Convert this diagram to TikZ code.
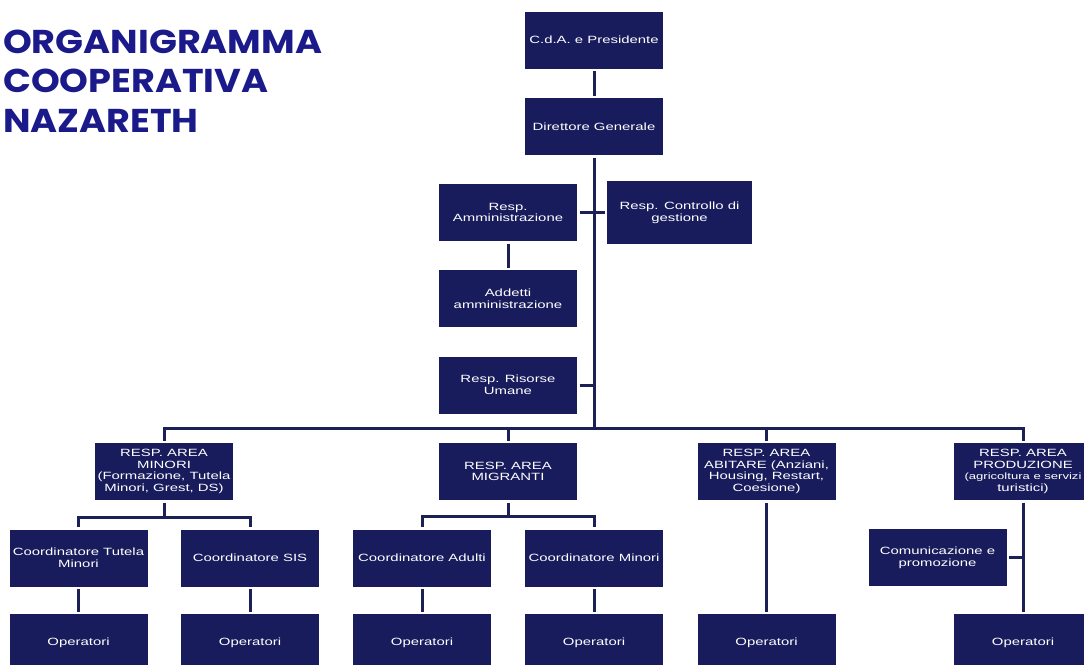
\documentclass[tikz,border=0pt]{standalone}
\usepackage{fontspec}
\usepackage{xcolor}
\usepackage{tikz}
\usetikzlibrary{positioning}
\newfontfamily\boxfont[FakeStretch=1.42]{Liberation Sans}
\newfontfamily\titlefont[FakeStretch=1.11]{Poppins}
\definecolor{boxfill}{HTML}{181C5C}
\definecolor{linkcol}{HTML}{1B2155}
\definecolor{titlecol}{HTML}{1A1A8A}
\tikzset{
  orgbox/.style={fill=boxfill, text=white, minimum width=138pt,
                 minimum height=57pt, inner sep=0pt, outer sep=2.5pt,
                 align=center, font=\boxfont\fontsize{10.5}{11.7}\selectfont},
  link/.style={draw=linkcol, line width=3pt, line join=miter},
  titletext/.style={text=titlecol, inner sep=0pt, anchor=base west,
                    font=\titlefont\bfseries\fontsize{33}{39}\selectfont}
}

\begin{document}
\begin{tikzpicture}[x=1pt, y=-1pt]

  % page frame, 1084 x 664
  \useasboundingbox (0,0) rectangle (1084,664);
  \clip (0,0) rectangle (1084,664);
  \fill[white] (0,0) rectangle (1084,664);

  % ===== Title =====
  \node[titletext] (tit1) at (3,53)  {ORGANIGRAMMA};
  \node[titletext] (tit2) at (3,92)  {COOPERATIVA};
  \node[titletext] (tit3) at (3,132) {NAZARETH};

  % ===== Top: board and direction =====
  \node[orgbox] (cda)  at (594,40)    {C.d.A. e Presidente};
  \node[orgbox] (dg)   at (594,126.5) {Direttore Generale};
  \node[orgbox] (ra)   at (508,212.5) {Resp.\\Amministrazione};
  \node[orgbox, minimum width=145pt, minimum height=63pt]
                (ctrl) at (679.5,212.5) {Resp. Controllo di\\gestione};
  \node[orgbox] (add)  at (508,298.5) {Addetti\\amministrazione};
  \node[orgbox] (rru)  at (508,385)   {Resp. Risorse\\Umane};

  % ===== Areas =====
  \node[orgbox] (minori)     at (164,471.5)
    {RESP. AREA\\MINORI\\(Formazione, Tutela\\Minori, Grest, DS)};
  \node[orgbox] (migranti)   at (508,471.5) {RESP. AREA\\MIGRANTI};
  \node[orgbox] (abitare)    at (766.5,471.5)
    {RESP. AREA\\ABITARE (Anziani,\\Housing, Restart,\\Coesione)};
  \node[orgbox] (produzione) at (1023,471.5)
    {RESP. AREA\\PRODUZIONE\\{\fontsize{9.2}{11.7}\selectfont(agricoltura e servizi}\\turistici)};

  % ===== Coordinators =====
  \node[orgbox] (ctm)    at (78.5,558)  {Coordinatore Tutela\\Minori};
  \node[orgbox] (sis)    at (250,558)   {Coordinatore SIS};
  \node[orgbox] (adulti) at (422,558)   {Coordinatore Adulti};
  \node[orgbox] (cmin)   at (594,558)   {Coordinatore Minori};
  \node[orgbox] (com)    at (937.5,557.5) {Comunicazione e\\promozione};

  % ===== Operators =====
  \foreach \n/\x in {op1/78.5, op2/250, op3/422, op4/594, op5/766.5, op6/1023}
    \node[orgbox] (\n) at (\x,642.5) {Operatori};

  % ===== Connectors =====
  \coordinate (mainbus) at (594,428);
  \coordinate (minbus)  at (164,517);
  \coordinate (migbus)  at (508,516);

  \draw[link] (cda) -- (dg);
  \draw[link] (dg) -- (mainbus);
  \draw[link] (ra) -- (ctrl);
  \draw[link] (ra) -- (add);
  \draw[link] (rru) -- (rru -| dg);

  \draw[link] (minori) -- (minori |- mainbus) -- (produzione |- mainbus) -- (produzione);
  \draw[link] (migranti |- mainbus) -- (migranti);
  \draw[link] (abitare |- mainbus) -- (abitare);

  \draw[link] (minori) -- (minbus);
  \draw[link] (ctm) -- (ctm |- minbus) -- (sis |- minbus) -- (sis);
  \draw[link] (migranti) -- (migbus);
  \draw[link] (adulti) -- (adulti |- migbus) -- (cmin |- migbus) -- (cmin);

  \draw[link] (ctm) -- (op1);
  \draw[link] (sis) -- (op2);
  \draw[link] (adulti) -- (op3);
  \draw[link] (cmin) -- (op4);
  \draw[link] (abitare) -- (op5);
  \draw[link] (produzione) -- (op6);
  \draw[link] (com) -- (com -| produzione);

\end{tikzpicture}
\end{document}
